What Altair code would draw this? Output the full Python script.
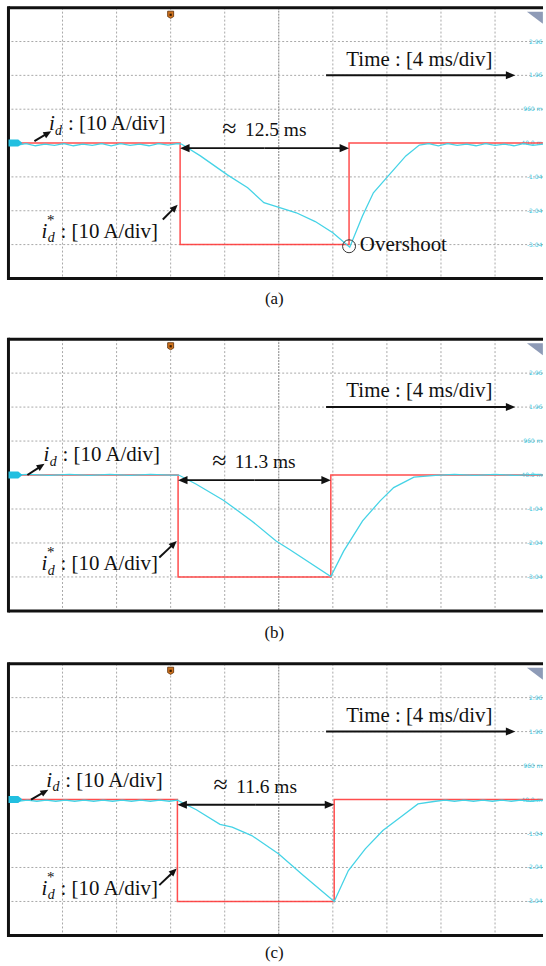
import math
import altair as alt
import pandas as pd

# ---------------- data (time in ms, 4 ms/div; current in divisions, 10 A/div) ----------------
T_END = 39.55
V_MIN, V_MAX = -4.0, 4.0
CAPTIONS = ["(a)", "(b)", "(c)"]
STEP_ON = [12.7, 12.55, 12.5]        # reference step start (ms)
STEP_LEN = [12.5, 11.3, 11.6]        # reference step length (ms)
STEP_DEPTH = -3.0                    # reference step depth (div)
LEN_LABELS = ["12.5 ms", "11.3 ms", "11.6 ms"]

ID_T_A = [0.0, 0.6, 1.3, 2.0, 2.7, 3.4, 4.1, 4.8, 5.5, 6.2, 6.9, 7.6, 8.3, 9.0, 9.7, 10.4, 11.1, 11.8, 12.5,
          12.8, 14.2, 16.2, 17.7, 18.9, 19.6, 21.3, 22.7, 24.0, 25.25, 26.2, 27.0, 28.1, 29.4, 30.4,
          31.1, 31.8, 32.5, 33.2, 33.9, 34.6, 35.3, 36.0, 36.7, 37.4, 38.1, 38.8, 39.55]
ID_V_A = [-0.02, -0.07, -0.02, -0.08, -0.03, -0.07, -0.02, -0.08, -0.03, -0.07, -0.02, -0.08, -0.02, -0.07,
          -0.03, -0.08, -0.02, -0.06, -0.02,
          -0.03, -0.38, -0.94, -1.32, -1.76, -1.85, -2.06, -2.32, -2.65, -3.08, -2.15, -1.47, -0.97, -0.38, -0.06,
          -0.02, -0.08, -0.02, -0.07, -0.03, -0.08, -0.02, -0.07, -0.03, -0.08, -0.02, -0.07, -0.03]

ID_T_B = [0.0, 1.5, 3.0, 4.5, 6.0, 7.5, 9.0, 10.5, 12.0, 12.6,
          13.9, 15.9, 18.0, 19.8, 20.8, 23.85, 24.8, 26.2, 27.5, 28.5, 30.0, 31.6,
          33.0, 34.5, 36.0, 37.5, 39.0, 39.55]
ID_V_B = [0.0, 0.02, -0.01, 0.02, -0.01, 0.02, -0.01, 0.02, 0.0, 0.0,
          -0.27, -0.74, -1.35, -1.94, -2.19, -2.99, -2.24, -1.35, -0.76, -0.37, -0.06, -0.01,
          0.02, -0.01, 0.02, -0.01, 0.02, 0.0]

ID_T_C = [0.0, 0.7, 1.4, 2.1, 2.8, 3.5, 4.2, 4.9, 5.6, 6.3, 7.0, 7.7, 8.4, 9.1, 9.8, 10.5, 11.2, 11.9, 12.5,
          13.9, 15.65, 16.55, 18.0, 20.0, 21.8, 24.1, 25.15, 26.4, 27.7, 29.0, 30.3, 31.6,
          32.3, 33.0, 33.7, 34.4, 35.1, 35.8, 36.5, 37.2, 37.9, 38.6, 39.55]
ID_V_C = [-0.02, -0.05, -0.02, -0.05, -0.02, -0.05, -0.02, -0.05, -0.02, -0.05, -0.02, -0.05, -0.02, -0.05,
          -0.02, -0.05, -0.02, -0.05, -0.02,
          -0.30, -0.73, -0.81, -1.06, -1.60, -2.23, -3.00, -2.09, -1.45, -0.91, -0.52, -0.13, -0.05,
          -0.02, -0.05, -0.02, -0.05, -0.02, -0.05, -0.02, -0.05, -0.02, -0.05, -0.02]

ID_T = [ID_T_A, ID_T_B, ID_T_C]
ID_V = [ID_V_A, ID_V_B, ID_V_C]

GRID_T = [4, 8, 12, 16, 24, 28, 32, 36]
GRID_T_CENTER = [20]
GRID_V = [-3, -2, -1, 1, 2, 3]
SCALE_V = [3, 2, 1, 0, -1, -2, -3]
SCALE_TXT = ["2.96", "1.96", "960 m", "-40.0 m", "-1.04", "-2.04", "-3.04"]
TRIGGER_T = 12.0

# ---------------- layout of annotations (in ms / div) ----------------
ANN = [
    dict(id_t=3.0, id_v=0.38, id_arrow=(1.92, 0.06, 3.17, 0.35),
         st_arrow=(11.42, -2.26, 12.52, -1.82), cap_v=-4.62),
    dict(id_t=2.6, id_v=0.40, id_arrow=(1.40, 0.0, 2.67, 0.33),
         st_arrow=(11.16, -2.43, 12.45, -1.94), cap_v=-4.66),
    dict(id_t=2.8, id_v=0.38, id_arrow=(1.67, 0.0, 2.95, 0.29),
         st_arrow=(11.16, -2.52, 12.45, -2.03), cap_v=-4.52),
]

PLOT_W = 537
HEIGHTS = [272, 273, 273]
SERIF = "Liberation Serif"
RED = "#ff3a3a"
CYAN = "#45d3e6"
INK = "#111111"
ARROW = "M0,0 L-2,-0.85 L-2,0.85 Z"

xs = alt.Scale(domain=[0, T_END], nice=False, zero=False)
ys = alt.Scale(domain=[V_MIN, V_MAX], nice=False, zero=False)


def X(f="t"):
    return alt.X(f"{f}:Q", scale=xs, axis=None)


def Y(f="v"):
    return alt.Y(f"{f}:Q", scale=ys, axis=None)


def arrows_df(arrs, px_ms, px_div, back=5.0):
    rows = []
    for (t0, v0, t1, v1) in arrs:
        dx = (t1 - t0) * px_ms
        dy = (v1 - v0) * px_div
        L = math.hypot(dx, dy)
        f = back / L
        rows.append(dict(t=t0, v=v0, t2=t1 - (t1 - t0) * f, v2=v1 - (v1 - v0) * f,
                         tt=t1, vt=v1, ang=math.degrees(math.atan2(-dy, dx)) % 360))
    return pd.DataFrame(rows)


def arrow_layers(arrs, px_ms, px_div, head):
    df = arrows_df(arrs, px_ms, px_div)
    shaft = alt.Chart(df).mark_rule(color=INK, strokeWidth=2).encode(
        x=X("t"), y=Y("v"), x2="t2:Q", y2="v2:Q")
    tip = alt.Chart(df).mark_point(shape=ARROW, filled=True, color=INK, size=head,
                                   opacity=1, strokeWidth=0).encode(
        x=X("tt"), y=Y("vt"), angle=alt.Angle("ang:Q", scale=None))
    return [shaft, tip]


def text_layer(rows, **props):
    df = pd.DataFrame(rows, columns=["t", "v", "label"])
    base = dict(font=SERIF, color=INK, align="left", baseline="alphabetic")
    base.update(props)
    return alt.Chart(df).mark_text(**base).encode(x=X(), y=Y(), text="label:N")


def panel(i):
    h = HEIGHTS[i]
    a = ANN[i]
    px_ms = 54.3 / 4.0
    px_div = h / (V_MAX - V_MIN)
    t1 = STEP_ON[i]
    t2 = t1 + STEP_LEN[i]
    mid = (t1 + t2) / 2

    ref = pd.DataFrame({"t": [0, t1, t1, t2, t2, T_END],
                        "v": [0, 0, STEP_DEPTH, STEP_DEPTH, 0, 0]})
    ref["o"] = range(len(ref))
    meas = pd.DataFrame({"t": ID_T[i], "v": ID_V[i]})
    meas["o"] = range(len(meas))

    L = []
    # oscilloscope grid
    L.append(alt.Chart(pd.DataFrame({"t": GRID_T})).mark_rule(
        color="#a8a8a8", strokeWidth=1, strokeDash=[2, 2]).encode(x=X()))
    L.append(alt.Chart(pd.DataFrame({"t": GRID_T_CENTER})).mark_rule(
        color="#808080", strokeWidth=1, strokeDash=[2, 1]).encode(x=X()))
    L.append(alt.Chart(pd.DataFrame({"v": GRID_V})).mark_rule(
        color="#a8a8a8", strokeWidth=1, strokeDash=[2, 2]).encode(y=Y()))
    # channel scale labels at the right edge
    L.append(text_layer([(T_END - 0.05, v, s) for v, s in zip(SCALE_V, SCALE_TXT)],
                        font="DejaVu Sans", fontSize=6, color="#38c6de",
                        align="right", baseline="middle"))
    # reference and measured current
    L.append(alt.Chart(ref).mark_line(color=RED, strokeWidth=1.5, opacity=0.9).encode(
        x=X(), y=Y(), order="o:Q"))
    L.append(alt.Chart(meas).mark_line(color=CYAN, strokeWidth=1.3).encode(
        x=X(), y=Y(), order="o:Q"))
    # frame
    L.append(alt.Chart(pd.DataFrame({"v": [V_MAX, V_MIN]})).mark_rule(
        color=INK, strokeWidth=3).encode(y=Y()))
    L.append(alt.Chart(pd.DataFrame({"t": [0.0]})).mark_rule(
        color=INK, strokeWidth=3, strokeCap="square").encode(x=X()))
    # markers: channel tab, trigger, corner flag
    L.append(alt.Chart(pd.DataFrame({"t": [0.52], "v": [0.0]})).mark_point(
        shape="M-1,-0.5 L0.4,-0.5 L1,0 L0.4,0.5 L-1,0.5 Z", filled=True, color="#22bfe0",
        size=196, opacity=1, strokeWidth=0).encode(x=X(), y=Y()))
    L.append(alt.Chart(pd.DataFrame({"t": [TRIGGER_T], "v": [3.79]})).mark_point(
        shape="M-1,-1.2 L1,-1.2 L1,0.6 L0,1.2 L-1,0.6 Z", filled=True, color="#d2741e",
        stroke="#5a2a00", strokeWidth=0.8, size=36, opacity=1).encode(x=X(), y=Y()))
    L.append(alt.Chart(pd.DataFrame({"t": [TRIGGER_T], "v": [3.79]})).mark_point(
        shape="square", filled=True, color="#3a1c00", size=5, opacity=1).encode(x=X(), y=Y()))
    L.append(alt.Chart(pd.DataFrame({"t": [38.95], "v": [3.76]})).mark_point(
        shape="M-1,-0.5 L1,-0.5 L1,1 Z", filled=True, color="#8e9bb7", size=256,
        opacity=1, strokeWidth=0).encode(x=X(), y=Y()))

    # arrows
    L += arrow_layers([(mid, -0.15, t1, -0.15), (mid, -0.15, t2, -0.15),
                       (23.5, 2.0, 37.5, 2.0)], px_ms, px_div, head=90)
    L += arrow_layers([a["id_arrow"], a["st_arrow"]], px_ms, px_div, head=64)

    # labels
    L.append(text_layer([(mid - 2.6, 0.18, "≈")], fontSize=26, align="center"))
    L.append(text_layer([(mid - 1.45, 0.2, LEN_LABELS[i])], fontSize=19.5))
    L.append(text_layer([(30.4, 2.29, "Time : [4 ms/div]")], fontSize=21, align="center"))
    L.append(text_layer([(a["id_t"], a["id_v"], "i"), (2.45, -2.8, "i")],
                        fontSize=21, fontStyle="italic"))
    L.append(text_layer([(a["id_t"] + 0.45, a["id_v"] - 0.13, "d"), (2.9, -2.93, "d")],
                        fontSize=14, fontStyle="italic"))
    L.append(text_layer([(2.86, -2.42, "*")], fontSize=15))
    L.append(text_layer([(a["id_t"] + 1.4, a["id_v"], ": [10 A/div]"),
                         (3.85, -2.8, ": [10 A/div]")], fontSize=21))
    if i == 0:
        L.append(alt.Chart(pd.DataFrame({"t": [t2], "v": [-3.05]})).mark_point(
            shape="circle", filled=False, color="#333333", strokeWidth=1, size=169,
            opacity=1).encode(x=X(), y=Y()))
        L.append(text_layer([(26.0, -3.2, "Overshoot")], fontSize=21))
    # caption
    L.append(text_layer([(19.67, a["cap_v"], CAPTIONS[i])], fontSize=17,
                        align="center", baseline="middle"))

    return alt.layer(*L).properties(width=PLOT_W, height=h)


lower = alt.vconcat(panel(1), panel(2), spacing=53, bounds="flush")
chart = alt.vconcat(panel(0), lower, spacing=61, bounds="flush").properties(
    padding={"left": 5.5, "top": 2.5, "right": 0, "bottom": 0},
    background="white",
).configure_view(stroke=None)

chart.save("out.html", embed_options={"renderer": "svg", "actions": False})
